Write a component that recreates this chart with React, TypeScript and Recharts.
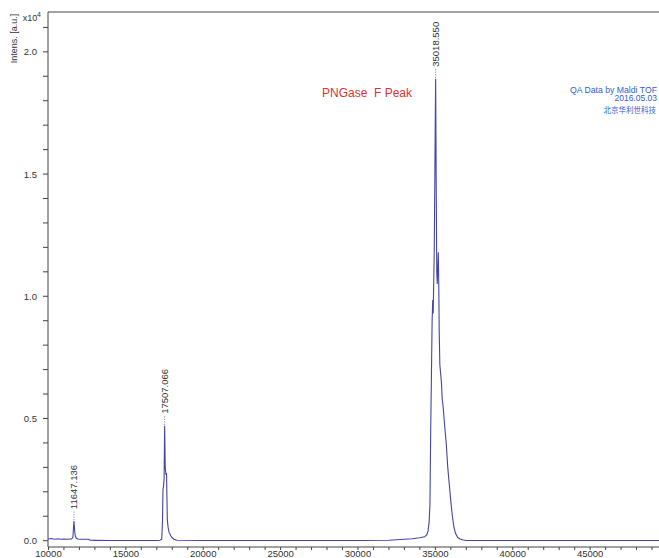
import React from 'react';
import { ComposedChart, Line, Scatter, XAxis, YAxis, ReferenceLine } from 'recharts';

const W = 659;
const H = 558;

// m/z (Da), intensity (x10^4 a.u.)
const BASELINE_LEFT: [number, number][] = [
  [9970, 0.007], [10200, 0.009], [10400, 0.006], [10600, 0.008], [10800, 0.006],
  [11000, 0.007], [11200, 0.006], [11400, 0.007], [11500, 0.007],
];
const PEAK_11647: [number, number][] = [
  [11580, 0.015], [11610, 0.045], [11647, 0.08], [11670, 0.06], [11700, 0.035],
  [11740, 0.018], [11800, 0.01], [11900, 0.007],
];
const BASELINE_MID1: [number, number][] = [
  [12000, 0.006], [12300, 0.006], [12600, 0.006], [12700, 0.002], [13000, 0.0015],
  [14000, 0.001], [15000, 0.001], [16000, 0.001], [17000, 0.001], [17200, 0.002],
];
const PEAK_17507: [number, number][] = [
  [17320, 0.006], [17370, 0.085], [17400, 0.21], [17430, 0.22], [17470, 0.25],
  [17507, 0.47], [17545, 0.3], [17590, 0.27], [17630, 0.277], [17660, 0.16],
  [17680, 0.085], [17730, 0.055], [17790, 0.035], [17900, 0.02], [18000, 0.012],
  [18100, 0.006], [18300, 0.002],
];
const BASELINE_MID2: [number, number][] = [
  [20000, 0.001], [25000, 0.001], [30000, 0.001], [32000, 0.002], [32500, 0.004],
  [33000, 0.006], [33500, 0.008], [34000, 0.012], [34300, 0.016],
];
const PEAK_35018: [number, number][] = [
  [34450, 0.025], [34530, 0.04], [34600, 0.08], [34650, 0.15], [34700, 0.46],
  [34745, 0.67], [34790, 0.9], [34830, 0.985], [34860, 0.93], [34930, 1.2],
  [34980, 1.6], [35018, 1.89], [35050, 1.5], [35090, 1.1], [35120, 1.05],
  [35160, 1.12], [35190, 1.18], [35220, 1.05], [35250, 0.85], [35290, 0.72],
  [35400, 0.64], [35440, 0.58], [35500, 0.55], [35600, 0.47], [35700, 0.4],
  [35800, 0.3], [35900, 0.23], [36000, 0.16], [36100, 0.1], [36200, 0.055],
  [36300, 0.03], [36450, 0.013], [36600, 0.007], [36800, 0.003], [37000, 0.001],
];
const BASELINE_RIGHT: [number, number][] = [
  [40000, 0.0005], [45000, 0.0005], [49450, 0.0005],
];

const SPECTRUM = [
  ...BASELINE_LEFT, ...PEAK_11647, ...BASELINE_MID1, ...PEAK_17507,
  ...BASELINE_MID2, ...PEAK_35018, ...BASELINE_RIGHT,
].map(([mz, v]) => ({ mz, v }));

const PEAKS = [
  { mz: 11647.136, v: 0.08, label: '11647.136' },
  { mz: 17507.066, v: 0.47, label: '17507.066' },
  { mz: 35018.55, v: 1.89, label: '35018.550' },
];

const X_DOMAIN: [number, number] = [9970, 49450];
const Y_DOMAIN: [number, number] = [-0.0258, 2.163];
const X_MAJOR = [10000, 15000, 20000, 25000, 30000, 35000, 40000, 45000];
const X_MINOR_STEP = 1000;
const Y_MAJOR = [0, 0.5, 1.0, 1.5, 2.0];
const Y_TICKS = [0, 0.1, 0.2, 0.3, 0.4, 0.5, 0.6, 0.7, 0.8, 0.9, 1.0, 1.1, 1.2, 1.3, 1.4, 1.5, 1.6, 1.7, 1.8, 1.9, 2.0, 2.1];

const X_TICKS: number[] = [];
for (let t = X_MAJOR[0]; t <= X_DOMAIN[1]; t += X_MINOR_STEP) X_TICKS.push(t);

const FONT = '"Liberation Sans", Arial, sans-serif';
const AXIS = '#444';
const TXT = '#333';
const BLUE = '#2f5fd0';

const XTick = (props: any) => {
  const { x, y, payload } = props;
  const major = X_MAJOR.includes(payload.value);
  return (
    <g>
      <line x1={x} x2={x} y1={y} y2={y + 3} stroke={AXIS} strokeWidth={1} />
      {major && (
        <text x={x} y={y + 9.5} textAnchor="middle" fontSize={9.5} fill={TXT} fontFamily={FONT}>
          {payload.value}
        </text>
      )}
    </g>
  );
};

const YTick = (props: any) => {
  const { x, y, payload } = props;
  const v = payload.value as number;
  const major = Y_MAJOR.some((m) => Math.abs(m - v) < 1e-6);
  return (
    <g>
      <line x1={x - 5} x2={x} y1={y} y2={y} stroke={AXIS} strokeWidth={1} />
      {major && (
        <text x={x - 11} y={y} textAnchor="end" dominantBaseline="central" fontSize={9.5} fill={TXT} fontFamily={FONT}>
          {v.toFixed(1)}
        </text>
      )}
    </g>
  );
};

const PeakMark = (props: any) => {
  const { cx, cy, payload } = props;
  const top = cy - 11;
  return (
    <g>
      <line x1={cx} x2={cx} y1={cy - 1} y2={top} stroke="#555" strokeWidth={0.8} strokeDasharray="1 1.5" />
      <text
        transform={`translate(${cx},${top - 1}) rotate(-90)`}
        textAnchor="start"
        dominantBaseline="central"
        fontSize={9.5}
        fill={TXT}
        fontFamily={FONT}
      >
        {payload.label}
      </text>
    </g>
  );
};

export default function App() {
  return (
    <div style={{ position: 'absolute', left: 0, top: 0, width: W, height: H, background: '#ffffff' }}>
      <ComposedChart width={W} height={H} margin={{ top: 12, right: 0, bottom: 0, left: 0 }}>
        <XAxis
          dataKey="mz"
          type="number"
          domain={X_DOMAIN}
          allowDataOverflow
          ticks={X_TICKS}
          interval={0}
          tick={<XTick />}
          tickLine={false}
          tickSize={0}
          tickMargin={0}
          height={11}
          axisLine={{ stroke: AXIS, strokeWidth: 1 }}
        />
        <YAxis
          type="number"
          domain={Y_DOMAIN}
          allowDataOverflow
          ticks={Y_TICKS}
          interval={0}
          tick={<YTick />}
          tickLine={false}
          tickSize={0}
          tickMargin={0}
          width={48}
          axisLine={{ stroke: AXIS, strokeWidth: 1 }}
        />
        <ReferenceLine y={Y_DOMAIN[1]} stroke={AXIS} strokeWidth={1} />
        <Line
          data={SPECTRUM}
          dataKey="v"
          type="linear"
          stroke="#4444a4"
          strokeWidth={1.1}
          dot={false}
          activeDot={false}
          isAnimationActive={false}
        />
        <Scatter data={PEAKS} dataKey="v" shape={<PeakMark />} isAnimationActive={false} />
      </ComposedChart>
      <svg width={W} height={H} style={{ position: 'absolute', left: 0, top: 0, pointerEvents: 'none' }}>
        <text
          transform="translate(13.8,63.3) rotate(-90)"
          textAnchor="start"
          dominantBaseline="central"
          fontSize={9}
          fill={TXT}
          fontFamily={FONT}
        >
          Intens. [a.u.]
        </text>
        <text x={22.7} y={20.7} fontSize={9} fill={TXT} fontFamily={FONT}>x10</text>
        <text x={37} y={17.3} fontSize={7} fill={TXT} fontFamily={FONT}>4</text>
        <text x={322} y={97.3} fontSize={12} fill="#dd3333" fontFamily={FONT} style={{ whiteSpace: 'pre' }}>
          {'PNGase  F Peak'}
        </text>
        <text x={657} y={92.5} textAnchor="end" fontSize={8.7} fill={BLUE} fontFamily={FONT}>
          QA Data by Maldi TOF
        </text>
        <text x={657} y={101} textAnchor="end" fontSize={8.5} fill={BLUE} fontFamily={FONT}>
          2016.05.03
        </text>
        <text x={656} y={112.5} textAnchor="end" fontSize={7.5} fill={BLUE} fontFamily='"Noto Sans CJK SC", sans-serif'>
          北京华利世科技
        </text>
      </svg>
    </div>
  );
}
